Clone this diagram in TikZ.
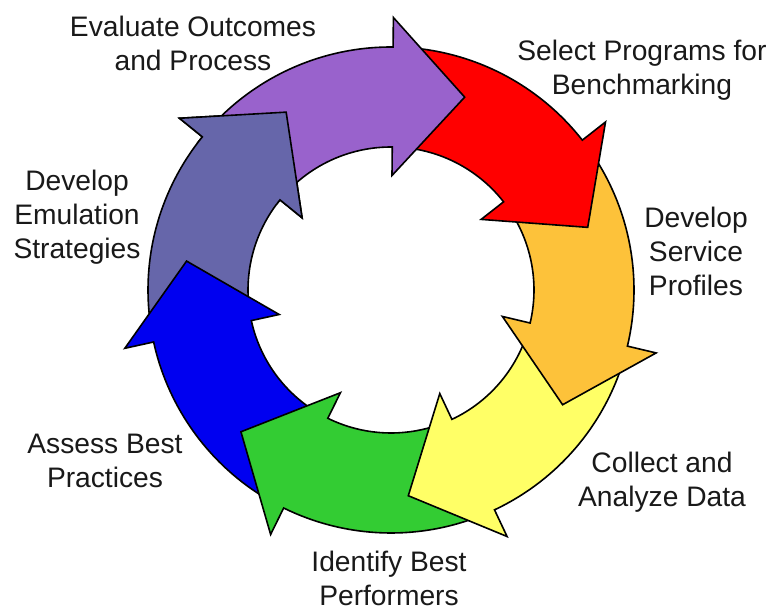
\documentclass[tikz,border=0pt]{standalone}
\usepackage{fontspec}
\setmainfont{Liberation Sans}
\usetikzlibrary{calc}

\definecolor{evalpurple}{RGB}{153,98,204}
\definecolor{selectred}{RGB}{255,0,0}
\definecolor{profileorange}{RGB}{253,194,58}
\definecolor{collectyellow}{RGB}{255,255,102}
\definecolor{identifygreen}{RGB}{51,204,51}
\definecolor{assessblue}{RGB}{0,0,240}
\definecolor{emulateslate}{RGB}{102,102,170}

% One curved block arrow of the cycle.
% #1 = angle of the head base, #2 = fill colour.
% The tail starts inside the head of the preceding arrow.
\newcommand\cyclearrow[2]{%
  \pgfmathsetmacro\tailang{#1+360/7-5}%
  \draw[ringarrow=#2]
    (\tailang:243) arc[start angle=\tailang, end angle=#1, radius=243]
    -- (#1:272.5)
    -- ([shift={(#1-90:72)}]#1:193.5)
    -- (#1:114.5)
    -- (#1:143)
    arc[start angle=#1, end angle=\tailang, radius=143]
    -- cycle;}

\begin{document}
\begin{tikzpicture}[x=0.5pt,y=0.5pt,
  ringarrow/.style={draw=black, line width=0.8pt, line join=miter, fill=#1},
  steplabel/.style={align=center, inner sep=0pt,
    font=\fontsize{14.1}{17}\selectfont, text=black!90}]
\useasboundingbox (0,0) rectangle (776,610);

\begin{scope}[shift={(391,320)}]
  % drawn in reverse so that each head lies over the next tail
  \cyclearrow{140.929}{emulateslate}
  \cyclearrow{-167.643}{assessblue}
  \cyclearrow{-116.214}{identifygreen}
  \cyclearrow{-64.786}{collectyellow}
  \cyclearrow{-13.357}{profileorange}
  \cyclearrow{38.071}{selectred}
  \cyclearrow{89.5}{evalpurple}
  % the slate head closes the cycle over the purple tail
  \begin{scope}
    \clip (0,0) -- (143:320) arc[start angle=143, end angle=112, radius=320] -- cycle;
    \cyclearrow{140.929}{emulateslate}
  \end{scope}
\end{scope}

\node[steplabel] (evaluate) at (193,567) {Evaluate Outcomes\\and Process};
\node[steplabel] (select) at (642,540) {Select Programs for\\Benchmarking};
\node[steplabel] (profiles) at (696,359) {Develop\\Service\\Profiles};
\node[steplabel] (collect) at (662,128) {Collect and\\Analyze Data};
\node[steplabel] (identify) at (389,32) {Identify Best\\Performers};
\node[steplabel] (assess) at (105,149) {Assess Best\\Practices};
\node[steplabel] (emulate) at (77,393) {Develop\\Emulation\\Strategies};
\end{tikzpicture}
\end{document}
